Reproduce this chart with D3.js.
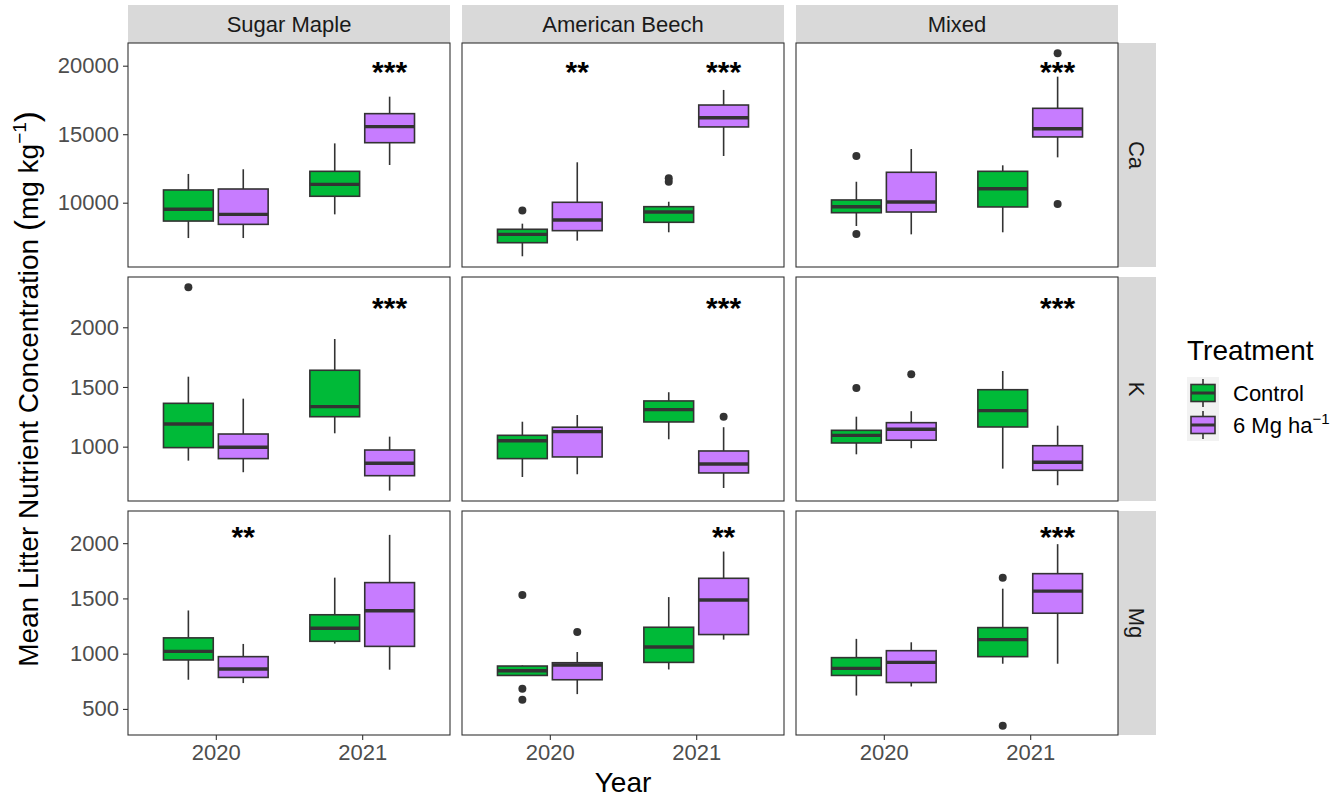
<!DOCTYPE html>
<html>
<head>
<meta charset="utf-8">
<script src="https://cdn.jsdelivr.net/npm/d3@7"></script>
<style>
  html, body { margin: 0; padding: 0; background: #fff; }
  svg { display: block; font-family: "Liberation Sans", Arial, Helvetica, sans-serif; }
</style>
</head>
<body>
<svg id="chart" width="1332" height="799"></svg>
<script>
// ---- data -------------------------------------------------------------
const nutrients = ["Ca", "K", "Mg"];
const species = ["Sugar Maple", "American Beech", "Mixed"];
const years = ["2020", "2021"];
const treatments = ["Control", "6 Mg ha-1"];

// Box summaries [lower whisker, Q1, median, Q3, upper whisker]
// ordered species -> year -> treatment (Control, 6 Mg ha-1)
const caStats = [
  [7420, 8660, 9520, 10930, 12100], [7420, 8420, 9150, 11000, 12440],
  [9150, 10470, 11340, 12290, 14330], [12750, 14380, 15550, 16500, 17740],
  [6090, 7080, 7690, 8060, 8470], [7230, 7960, 8740, 10030, 12950],
  [7840, 8570, 9320, 9710, 10070], [13410, 15530, 16200, 17130, 18230],
  [8300, 9270, 9710, 10200, 11530], [7690, 9320, 10050, 12220, 13920],
  [7840, 9690, 11020, 12290, 12730], [13310, 14800, 15400, 16890, 19200]
];
const kStats = [
  [883, 992, 1190, 1363, 1586], [786, 900, 995, 1106, 1402],
  [1112, 1251, 1335, 1640, 1902], [632, 757, 861, 972, 1084],
  [746, 900, 1050, 1095, 1209], [769, 914, 1126, 1163, 1265],
  [1062, 1207, 1310, 1383, 1456], [654, 780, 855, 964, 1163],
  [936, 1031, 1095, 1137, 1251], [987, 1054, 1146, 1201, 1297],
  [816, 1165, 1302, 1477, 1634], [677, 802, 869, 1008, 1176]
];
const mgStats = [
  [764, 943, 1021, 1143, 1391], [734, 785, 861, 973, 1088],
  [1091, 1112, 1230, 1352, 1688], [855, 1066, 1388, 1643, 2075],
  [798, 803, 846, 888, 893], [634, 764, 897, 918, 1015],
  [857, 921, 1061, 1239, 1512], [1127, 1173, 1485, 1682, 1924],
  [621, 803, 867, 964, 1134], [703, 739, 921, 1027, 1103],
  [909, 973, 1127, 1236, 1588], [909, 1366, 1566, 1724, 1991]
];

// Outlying points, same ordering as the summaries
const caOutliers = [
  [], [], [], [],
  [9440], [], [11530, 11780], [],
  [13410, 7710], [], [], [20900, 9900]
];
const kOutliers = [
  [2335], [], [], [],
  [], [], [], [1251],
  [1492], [1606], [], []
];
const mgOutliers = [
  [], [], [], [],
  [1530, 682, 582], [1197], [], [],
  [], [], [1688, 348], []
];

// Significance labels per species -> year (placed over the treated box)
const caSignif = [["", "***"], ["**", "***"], ["", "***"]];
const kSignif = [["", "***"], ["", "***"], ["", "***"]];
const mgSignif = [["**", ""], ["", "**"], ["", "***"]];
const signifY = [19830, 2195, 2097];

// Axis extents and tick labels per nutrient row
const caDomain = [5307, 21657];
const kDomain = [545, 2421];
const mgDomain = [264, 2291];
const caTicks = [10000, 15000, 20000];
const kTicks = [1000, 1500, 2000];
const mgTicks = [500, 1000, 1500, 2000];

const fillColors = ["#00BA38", "#C77CFF"];

// ---- assemble rows ------------------------------------------------------
const rows = [
  { name: "Ca", stats: caStats, outliers: caOutliers, signif: caSignif, domain: caDomain, ticks: caTicks },
  { name: "K", stats: kStats, outliers: kOutliers, signif: kSignif, domain: kDomain, ticks: kTicks },
  { name: "Mg", stats: mgStats, outliers: mgOutliers, signif: mgSignif, domain: mgDomain, ticks: mgTicks }
].map((r, i) => Object.assign(r, { starY: signifY[i] }));

// ---- layout -------------------------------------------------------------
const panelW = 322, panelH = 224;
const colLeft = [128, 462, 796];
const rowTop = [43, 277, 511];
const stripH = 38, stripW = 38;
const ink = "#333333";
const labelSize = 22;

const svg = d3.select("#chart");

const x = d3.scalePoint().domain(years).range([0, panelW]).padding(0.6);
const step = x.step();
const dodge = d3.scaleBand().domain(treatments).range([-0.375 * step, 0.375 * step]);
const boxW = 0.34 * step;
const xOf = (year, trt) => x(year) + dodge(trt) + dodge.bandwidth() / 2;

// column strips
species.forEach((sp, j) => {
  const g = svg.append("g").attr("transform", `translate(${colLeft[j]},${rowTop[0] - stripH})`);
  g.append("rect").attr("width", panelW).attr("height", stripH).attr("fill", "#D9D9D9");
  g.append("text").attr("x", panelW / 2).attr("y", stripH / 2).attr("dy", "0.36em")
    .attr("text-anchor", "middle").attr("font-size", labelSize).attr("fill", "#1A1A1A").text(sp);
});

// row strips
rows.forEach((r, i) => {
  const g = svg.append("g").attr("transform", `translate(${colLeft[2] + panelW},${rowTop[i]})`);
  g.append("rect").attr("width", stripW).attr("height", panelH).attr("fill", "#D9D9D9");
  g.append("text").attr("transform", `translate(${stripW / 2},${panelH / 2}) rotate(90)`)
    .attr("dy", "0.36em").attr("text-anchor", "middle").attr("font-size", labelSize)
    .attr("fill", "#1A1A1A").text(r.name);
});

rows.forEach((r, i) => {
  const y = d3.scaleLinear().domain(r.domain).range([panelH, 0]);

  // y axis on the first column only
  const ya = svg.append("g").attr("transform", `translate(${colLeft[0]},${rowTop[i]})`)
    .call(d3.axisLeft(y).tickValues(r.ticks).tickSize(5).tickPadding(4).tickFormat(d3.format("d")));
  ya.select(".domain").remove();
  ya.selectAll(".tick line").attr("stroke", ink).attr("stroke-width", 1.1);
  ya.selectAll(".tick text").attr("font-size", labelSize).attr("fill", "#4D4D4D")
    .attr("font-family", "Liberation Sans, Arial, sans-serif");

  species.forEach((sp, j) => {
    const g = svg.append("g").attr("transform", `translate(${colLeft[j]},${rowTop[i]})`);
    g.append("rect").attr("width", panelW).attr("height", panelH).attr("fill", "#fff");

    const groups = [];
    years.forEach((yr, k) => treatments.forEach((t, m) => {
      const idx = j * 4 + k * 2 + m;
      groups.push({ year: yr, trt: t, m, s: r.stats[idx], out: r.outliers[idx] });
    }));

    const box = g.selectAll("g.box").data(groups).join("g").attr("class", "box")
      .attr("transform", d => `translate(${xOf(d.year, d.trt)},0)`);

    // whiskers
    box.append("line").attr("y1", d => y(d.s[4])).attr("y2", d => y(d.s[3]))
      .attr("stroke", ink).attr("stroke-width", 1.6);
    box.append("line").attr("y1", d => y(d.s[1])).attr("y2", d => y(d.s[0]))
      .attr("stroke", ink).attr("stroke-width", 1.6);
    // box body
    box.append("rect").attr("x", -boxW / 2).attr("width", boxW)
      .attr("y", d => y(d.s[3])).attr("height", d => y(d.s[1]) - y(d.s[3]))
      .attr("fill", d => fillColors[d.m]).attr("stroke", ink).attr("stroke-width", 1.6);
    // median
    box.append("line").attr("x1", -boxW / 2).attr("x2", boxW / 2)
      .attr("y1", d => y(d.s[2])).attr("y2", d => y(d.s[2]))
      .attr("stroke", ink).attr("stroke-width", 3.4);
    // outliers
    box.selectAll("circle").data(d => d.out).join("circle")
      .attr("cx", 0).attr("cy", v => y(v)).attr("r", 4).attr("fill", ink);

    // significance stars above the treated box
    years.forEach((yr, k) => {
      const lab = r.signif[j][k];
      if (!lab) return;
      g.append("text").attr("x", xOf(yr, treatments[1])).attr("y", y(r.starY))
        .attr("dy", "0.48em").attr("text-anchor", "middle").attr("font-size", 30)
        .attr("font-weight", "bold").attr("fill", "#000").text(lab);
    });

    g.append("rect").attr("width", panelW).attr("height", panelH)
      .attr("fill", "none").attr("stroke", ink).attr("stroke-width", 1.1);

    // x axis on the bottom row
    if (i === rows.length - 1) {
      const xa = svg.append("g").attr("transform", `translate(${colLeft[j]},${rowTop[i] + panelH})`)
        .call(d3.axisBottom(x).tickSize(5).tickPadding(4));
      xa.select(".domain").remove();
      xa.selectAll(".tick line").attr("stroke", ink).attr("stroke-width", 1.1);
      xa.selectAll(".tick text").attr("font-size", labelSize).attr("fill", "#4D4D4D")
        .attr("font-family", "Liberation Sans, Arial, sans-serif");
    }
  });
});

// axis titles
const gridMidX = (colLeft[0] + colLeft[2] + panelW) / 2;
svg.append("text").attr("x", gridMidX).attr("y", 792).attr("text-anchor", "middle")
  .attr("font-size", 28).attr("fill", "#000").text("Year");

const gridMidY = (rowTop[0] + rowTop[2] + panelH) / 2;
const yt = svg.append("text").attr("transform", `translate(38,${gridMidY}) rotate(-90)`)
  .attr("text-anchor", "middle").attr("font-size", 28).attr("fill", "#000");
yt.append("tspan").text("Mean Litter Nutrient Concentration ");
yt.append("tspan").attr("font-size", 33).text("(");
yt.append("tspan").text("mg kg");
yt.append("tspan").attr("font-size", 19).attr("dy", -12).text("\u22121");
yt.append("tspan").attr("font-size", 33).attr("dy", 12).text(")");

// legend
const lg = svg.append("g").attr("transform", "translate(1187,0)");
lg.append("text").attr("x", 0).attr("y", 360).attr("font-size", 28).attr("fill", "#000").text("Treatment");
treatments.forEach((t, m) => {
  const ky = 377 + m * 32;
  const k = lg.append("g").attr("transform", `translate(0,${ky})`);
  k.append("rect").attr("width", 32).attr("height", 32).attr("fill", "#F2F2F2");
  k.append("line").attr("x1", 16).attr("x2", 16).attr("y1", 2).attr("y2", 30)
    .attr("stroke", ink).attr("stroke-width", 1.6);
  k.append("rect").attr("x", 4).attr("y", 7.5).attr("width", 24).attr("height", 17)
    .attr("fill", fillColors[m]).attr("stroke", ink).attr("stroke-width", 1.6);
  k.append("line").attr("x1", 4).attr("x2", 28).attr("y1", 16).attr("y2", 16)
    .attr("stroke", ink).attr("stroke-width", 3);
  const lt = k.append("text").attr("x", 46).attr("y", 16).attr("dy", "0.36em")
    .attr("font-size", labelSize).attr("fill", "#000");
  if (m === 0) {
    lt.text("Control");
  } else {
    lt.append("tspan").text("6 Mg ha");
    lt.append("tspan").attr("font-size", 15).attr("dy", -9).text("\u22121");
  }
});
</script>
</body>
</html>
